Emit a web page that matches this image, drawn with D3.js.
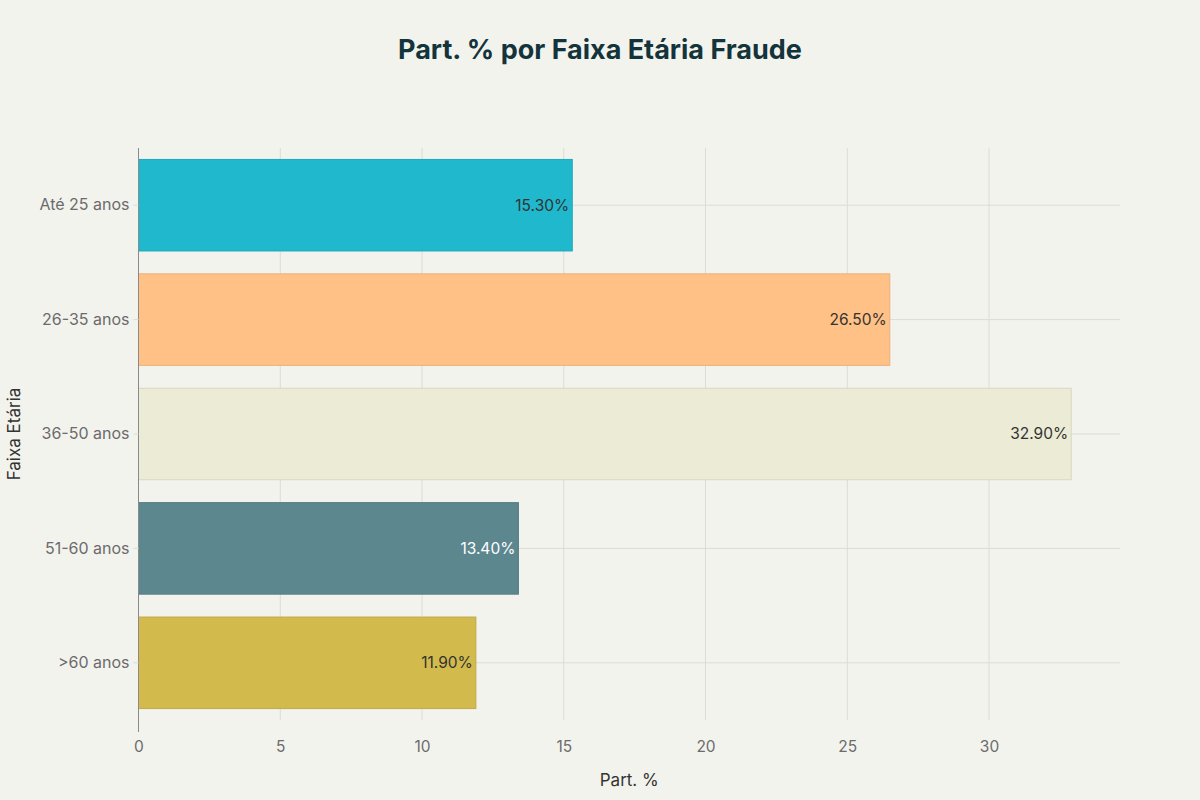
<!DOCTYPE html>
<html><head><meta charset="utf-8">
<script src="https://cdn.jsdelivr.net/npm/d3@7"></script>
<style>
html,body{margin:0;padding:0;background:#F3F3EE;}
svg{display:block;font-family:Inter,"Noto Sans",sans-serif;}
</style></head>
<body><svg id="c" width="1200" height="800"></svg>
<script>
const categories = ["Até 25 anos","26-35 anos","36-50 anos","51-60 anos",">60 anos"];
const values = [15.3, 26.5, 32.9, 13.4, 11.9];
const labels = ["15.30%","26.50%","32.90%","13.40%","11.90%"];
const colors = ["#1FB8CD","#FFC185","#ECEBD5","#5D878F","#D2BA4C"];
const labelColors = ["#333333","#333333","#333333","#FFFFFF","#333333"];
const xTicks = [0,5,10,15,20,25,30];

const svg = d3.select("#c");
const m = {l:138.5, r:1120, t:148, b:720};
const x = d3.scaleLinear().domain([0, 34.62]).range([m.l, m.r]);
const y = d3.scaleBand().domain(categories).range([m.t, m.b]).paddingInner(0.2).paddingOuter(0.1);

svg.append("rect").attr("width",1200).attr("height",800).attr("fill","#F3F3EE");

svg.append("g").selectAll("line").data(xTicks.slice(1)).join("line")
  .attr("x1",d=>x(d)).attr("x2",d=>x(d)).attr("y1",m.t).attr("y2",m.b)
  .attr("stroke","#DCDCD6").attr("stroke-width",1);
svg.append("g").selectAll("line").data(categories).join("line")
  .attr("x1",m.l).attr("x2",m.r)
  .attr("y1",d=>y(d)+y.bandwidth()/2).attr("y2",d=>y(d)+y.bandwidth()/2)
  .attr("stroke","#DCDCD6").attr("stroke-width",1);

svg.append("g").selectAll("rect").data(values).join("rect")
  .attr("x",x(0)).attr("y",(d,i)=>y(categories[i]))
  .attr("width",d=>x(d)-x(0)).attr("height",y.bandwidth())
  .attr("fill",(d,i)=>colors[i])
  .attr("stroke",(d,i)=>d3.color(colors[i]).darker(0.25))
  .attr("stroke-width",1);

svg.append("g").selectAll("text").data(values).join("text")
  .attr("x",d=>x(d)-3).attr("y",(d,i)=>y(categories[i])+y.bandwidth()/2)
  .attr("dy","0.35em").attr("text-anchor","end")
  .attr("font-size",15.5).attr("fill",(d,i)=>labelColors[i])
  .text((d,i)=>labels[i]);

svg.append("line").attr("x1",x(0)).attr("x2",x(0)).attr("y1",m.t).attr("y2",m.b+12)
  .attr("stroke","#8A8A8A").attr("stroke-width",1);

const xa = svg.append("g").attr("transform",`translate(0,${m.b})`)
  .call(d3.axisBottom(x).tickValues(xTicks).tickSize(0).tickPadding(21));
xa.select(".domain").remove();
xa.selectAll("text").attr("font-size",15.5).attr("fill","#6B6B6B").attr("font-family","Inter,'Noto Sans',sans-serif");

const ya = svg.append("g").attr("transform",`translate(${m.l},0)`)
  .call(d3.axisLeft(y).tickSize(5).tickPadding(4));
ya.select(".domain").remove();
ya.selectAll("line").attr("stroke","#DCDCD6");
ya.selectAll("text").attr("font-size",16).attr("fill","#6B6B6B").attr("font-family","Inter,'Noto Sans',sans-serif");

svg.append("text").attr("x",600).attr("y",59).attr("text-anchor","middle")
  .attr("font-size",27).attr("font-weight","bold").attr("fill","#13343B")
  .text("Part. % por Faixa Etária Fraude");
svg.append("text").attr("x",(m.l+m.r)/2).attr("y",786).attr("text-anchor","middle")
  .attr("font-size",17).attr("fill","#333333").text("Part. %");
svg.append("text").attr("transform",`translate(20,${(m.t+m.b)/2}) rotate(-90)`)
  .attr("text-anchor","middle").attr("font-size",17).attr("fill","#333333").text("Faixa Etária");
</script>
</body></html>
